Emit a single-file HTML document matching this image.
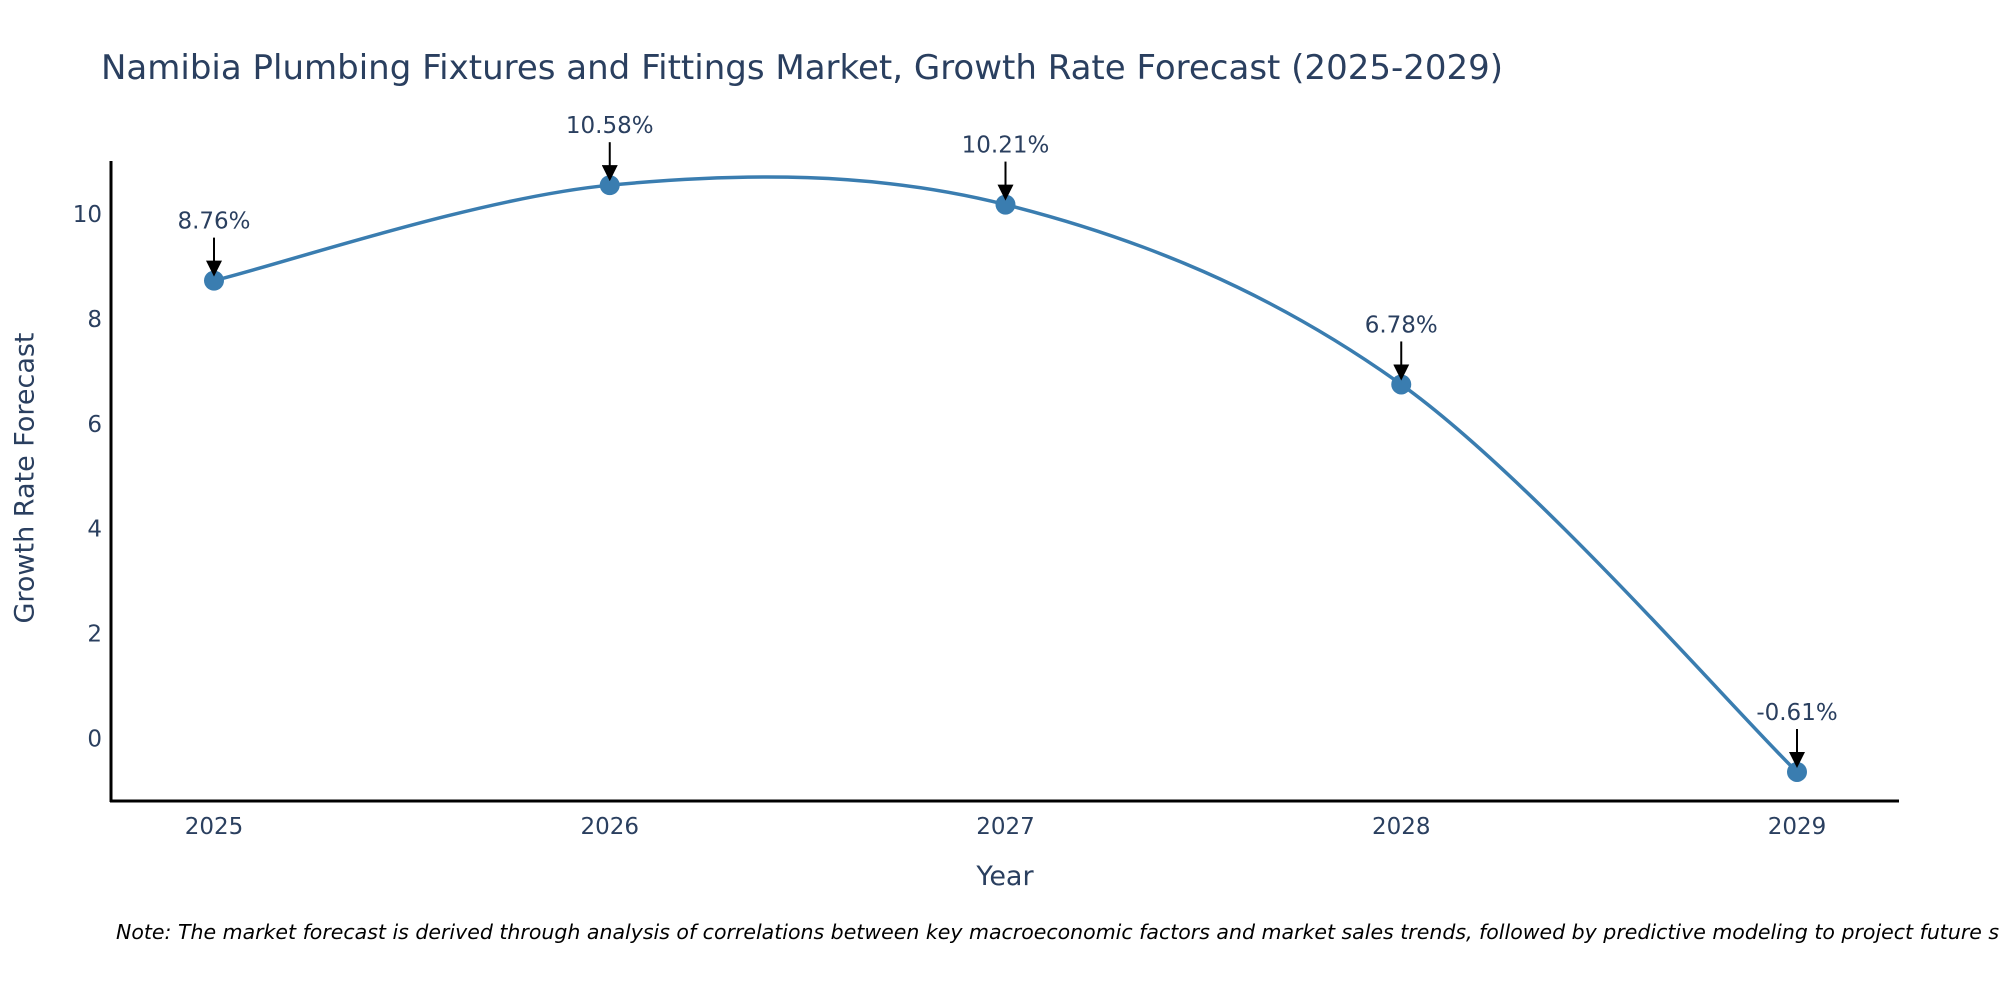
<!DOCTYPE html>
<html><head><meta charset="utf-8"><style>
html,body{margin:0;padding:0;background:#fff;}
svg{display:block;font-family:"DejaVu Sans","Liberation Sans",sans-serif;}
</style></head><body>
<svg id="chart" width="2000" height="1000" viewBox="0 0 2000 1000">
<text x="101" y="79" font-size="34" fill="#2a3f5f">Namibia Plumbing Fixtures and Fittings Market, Growth Rate Forecast (2025-2029)</text>
<g id="yticks"></g>
<g id="xticks"></g>
<line x1="111" y1="161" x2="111" y2="802" stroke="#000" stroke-width="3"/>
<line x1="110" y1="801" x2="1899" y2="801" stroke="#000" stroke-width="3"/>
<path id="series" fill="none" stroke="#3a7db0" stroke-width="3.5"/>
<g id="marks"></g>
<text x="26" y="478" font-size="27" fill="#2a3f5f" text-anchor="middle" transform="rotate(-90 26 478)" dominant-baseline="middle">Growth Rate Forecast</text>
<text x="1005" y="885" font-size="27" fill="#2a3f5f" text-anchor="middle">Year</text>
<text x="116" y="939" font-size="20.5" font-style="italic" fill="#000">Note: The market forecast is derived through analysis of correlations between key macroeconomic factors and market sales trends, followed by predictive modeling to project future sales</text>
<defs><marker id="ah" markerWidth="8" markerHeight="8" refX="7" refY="4" orient="auto" markerUnits="strokeWidth"><path d="M0,0 L8,4 L0,8 Z" fill="#000"/></marker></defs>
</svg>
<script>
const years = [2025, 2026, 2027, 2028, 2029];
const growth = [8.76, 10.58, 10.21, 6.78, -0.61];
const labels = ["8.76%", "10.58%", "10.21%", "6.78%", "-0.61%"];
const yTicks = [0, 2, 4, 6, 8, 10];

const NS = "http://www.w3.org/2000/svg";
const xs = y => 214 + (y - 2025) * (1797 - 214) / 4;
const ys = v => 740 - v * (740 - 215.6) / 10;
function mk(tag, attrs, parent){const e=document.createElementNS(NS,tag);for(const k in attrs)e.setAttribute(k,attrs[k]);parent.appendChild(e);return e;}

const yt = document.getElementById('yticks');
yTicks.forEach(t => {
  const e = mk('text', {x:102, y:ys(t), 'font-size':23, fill:'#2a3f5f', 'text-anchor':'end', 'dominant-baseline':'middle'}, yt);
  
  
  e.textContent = t;
});
const xt = document.getElementById('xticks');
years.forEach(y => {
  const e = mk('text', {x:xs(y), y:834, 'font-size':23, fill:'#2a3f5f', 'text-anchor':'middle'}, xt);
  
  
  e.textContent = y;
});

const pts = years.map((y,i) => [xs(y), ys(growth[i])]);
let d = `M${pts[0][0]},${pts[0][1]}`;
for (let i = 0; i < pts.length - 1; i++) {
  const p0 = pts[Math.max(0,i-1)], p1 = pts[i], p2 = pts[i+1], p3 = pts[Math.min(pts.length-1,i+2)];
  const c1 = [p1[0] + (p2[0]-p0[0])/6, p1[1] + (p2[1]-p0[1])/6];
  const c2 = [p2[0] - (p3[0]-p1[0])/6, p2[1] - (p3[1]-p1[1])/6];
  d += ` C${c1[0]},${c1[1]} ${c2[0]},${c2[1]} ${p2[0]},${p2[1]}`;
}
document.getElementById('series').setAttribute('d', d);

const mg = document.getElementById('marks');
pts.forEach((p,i) => {
  const c = mk('circle', {cx:p[0], cy:p[1], r:10, fill:'#3a7db0'}, mg);
  
  
  const a = mk('line', {x1:p[0], y1:p[1]-43, x2:p[0], y2:p[1]-6, stroke:'#000', 'stroke-width':2, 'marker-end':'url(#ah)'}, mg);
  
  
  const t = mk('text', {x:p[0], y:p[1]-52, 'font-size':23, fill:'#2a3f5f', 'text-anchor':'middle'}, mg);
  
  
  t.textContent = labels[i];
});
</script>
</body></html>
